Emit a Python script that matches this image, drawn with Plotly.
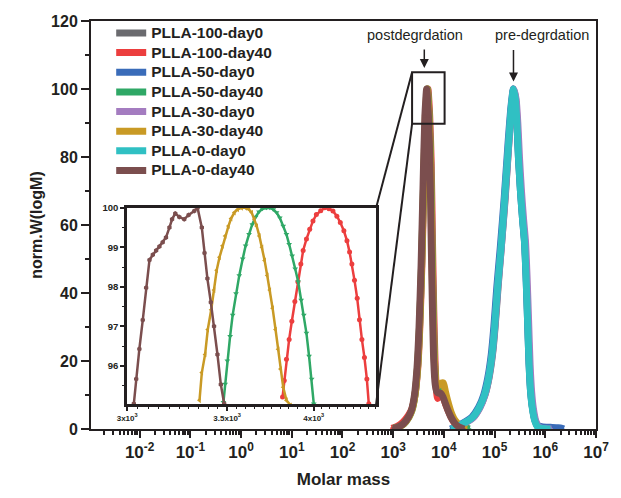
import numpy as np
import plotly.graph_objects as go

# ---------------- data ----------------
series_names = ["PLLA-100-day0", "PLLA-100-day40", "PLLA-50-day0", "PLLA-50-day40",
                "PLLA-30-day0", "PLLA-30-day40", "PLLA-0-day0", "PLLA-0-day40"]
series_colors = ["#6b6b6f", "#ec3e3e", "#3a6cb9", "#2fa866", "#a47cc0", "#c99a25", "#30c0c3", "#7b4e4e"]
series_symbols = ["square", "circle", "triangle-up", "triangle-down", "diamond",
                  "triangle-left", "triangle-right", "hexagon"]

# log10(molar mass) and normalised W(logM) for the main panel
logM_100_d0 = [4.16, 4.31, 4.46, 4.58, 4.71, 4.81, 4.89, 4.96, 5.01, 5.07, 5.13, 5.21, 5.285, 5.335, 5.378,
               5.415, 5.445, 5.475, 5.515, 5.555, 5.595, 5.625, 5.655, 5.685, 5.715, 5.75, 5.795, 5.845, 5.91, 6.0, 6.12]
w_100_d0 = [0, 1.0, 2.2, 3.5, 6.4, 10, 15, 22, 30, 42, 53, 68, 85, 95, 100,
            97, 90, 80, 70, 62, 55, 45, 32, 19, 11, 6, 2.5, 0.8, 0.3, 0.1, 0]

logM_100_d40 = [2.97, 3.08, 3.19, 3.30, 3.37, 3.43, 3.485, 3.525, 3.565, 3.605, 3.645, 3.685, 3.72, 3.75, 3.775,
                3.80, 3.825, 3.85, 3.875, 3.90, 3.94, 3.98, 4.03, 4.08, 4.14, 4.20, 4.27, 4.34, 4.42]
w_100_d40 = [0.2, 0.8, 2.0, 4.0, 6.0, 10, 18, 30, 48, 72, 92, 100, 92, 78, 55,
             35, 20, 12, 9, 9.5, 10, 9.5, 7.5, 5.5, 3.5, 2, 1, 0.4, 0]

logM_50_d0 = [4.13, 4.28, 4.43, 4.55, 4.685, 4.785, 4.865, 4.935, 4.985, 5.045, 5.11, 5.19, 5.27, 5.325, 5.37,
              5.41, 5.44, 5.47, 5.51, 5.55, 5.59, 5.62, 5.65, 5.68, 5.71, 5.75, 5.80, 5.86, 5.95, 6.10, 6.25, 6.33, 6.36]
w_50_d0 = [0, 1.0, 2.2, 3.5, 6.4, 10, 15, 22, 30, 42, 53, 68, 85, 95, 100,
           97, 90, 80, 70, 62, 55, 45, 32, 19, 11, 6, 2.5, 1.0, 0.6, 0.5, 0.4, 0.2, 0]

logM_50_d40 = [3.00, 3.10, 3.21, 3.31, 3.37, 3.43, 3.48, 3.52, 3.56, 3.60, 3.64, 3.675, 3.71, 3.74, 3.765,
               3.79, 3.815, 3.845, 3.875, 3.91, 3.95, 3.99, 4.04, 4.09, 4.15, 4.22, 4.30, 4.40, 4.51]
w_50_d40 = [0.2, 0.6, 1.5, 3.5, 5.5, 10, 18, 30, 48, 72, 92, 100, 92, 78, 55,
            35, 20, 13, 11, 11, 11.5, 10.5, 8, 5.5, 3.5, 2, 1, 0.4, 0]

logM_30_d0 = [4.17, 4.32, 4.47, 4.59, 4.715, 4.81, 4.885, 4.955, 5.005, 5.065, 5.13, 5.205, 5.285, 5.338, 5.38,
              5.425, 5.458, 5.49, 5.53, 5.57, 5.61, 5.64, 5.67, 5.70, 5.73, 5.765, 5.81, 5.86, 5.92, 6.02, 6.12]
w_30_d0 = [0, 1.0, 2.2, 3.5, 6.4, 10, 15, 22, 30, 42, 53, 68, 85, 95, 100,
           97, 90, 80, 70, 62, 55, 45, 32, 19, 11, 6, 2.5, 0.8, 0.3, 0.1, 0]

logM_30_d40 = [3.01, 3.11, 3.21, 3.31, 3.37, 3.43, 3.48, 3.52, 3.56, 3.60, 3.635, 3.67, 3.705, 3.735, 3.76,
               3.785, 3.81, 3.84, 3.87, 3.91, 3.95, 3.99, 4.03, 4.08, 4.14, 4.20, 4.28, 4.36, 4.45]
w_30_d40 = [0.2, 0.6, 1.5, 3.5, 5.5, 10, 18, 30, 48, 72, 92, 100, 92, 78, 55,
            35, 21, 14, 12.5, 13, 13.5, 13.5, 11, 8, 5, 3, 1.5, 0.5, 0]

logM_0_d0 = [4.15, 4.30, 4.45, 4.57, 4.70, 4.80, 4.88, 4.95, 5.00, 5.06, 5.125, 5.20, 5.28, 5.33, 5.373,
             5.41, 5.44, 5.47, 5.51, 5.55, 5.59, 5.62, 5.65, 5.68, 5.71, 5.745, 5.79, 5.84, 5.90, 6.00, 6.10]
w_0_d0 = [0, 1.0, 2.2, 3.5, 6.4, 10, 15, 22, 30, 42, 53, 68, 85, 95, 100,
          97, 90, 80, 70, 62, 55, 45, 32, 19, 11, 6, 2.5, 0.8, 0.3, 0.1, 0]

logM_0_d40 = [3.00, 3.10, 3.20, 3.30, 3.36, 3.42, 3.47, 3.51, 3.55, 3.59, 3.625, 3.66, 3.695, 3.725, 3.75,
              3.775, 3.80, 3.83, 3.86, 3.90, 3.94, 3.98, 4.03, 4.08, 4.14, 4.20, 4.26, 4.33, 4.40]
w_0_d40 = [0.2, 0.6, 1.5, 3.5, 5.5, 10, 18, 30, 48, 72, 92, 100, 92, 78, 55,
           35, 20, 13, 11, 10.5, 10.5, 9.5, 7.5, 5.5, 3.5, 2, 1, 0.4, 0]

# inset (peak region of the degraded samples): molar mass and W
inset_M_100_d40 = [3812, 3822, 3835, 3851, 3867, 3885, 3903, 3921, 3935, 3955, 3975, 3995, 4016, 4043, 4068,
                   4095, 4120, 4145, 4167, 4190, 4210, 4227, 4242, 4259, 4277, 4292, 4308, 4325, 4341, 4354]
inset_w_100_d40 = [95.21, 95.63, 96.17, 96.67, 97.13, 97.63, 98.13, 98.58, 98.92, 99.21, 99.46, 99.67, 99.83, 99.93, 100,
                   99.98, 99.92, 99.79, 99.63, 99.42, 99.17, 98.88, 98.58, 98.17, 97.71, 97.17, 96.67, 96.21, 95.67, 95.04]
inset_M_50_d40 = [3480, 3489, 3501, 3516, 3530, 3548, 3566, 3585, 3601, 3620, 3638, 3657, 3676, 3696, 3719, 3738,
                  3758, 3777, 3796, 3816, 3835, 3851, 3869, 3887, 3905, 3923, 3939, 3955, 3971, 3987, 4000]
inset_w_50_d40 = [95.08, 95.54, 96.13, 96.75, 97.29, 97.83, 98.29, 98.71, 99.04, 99.33, 99.58, 99.77, 99.9, 99.98, 100, 100,
                  99.96, 99.88, 99.75, 99.54, 99.33, 99.08, 98.79, 98.46, 98.13, 97.67, 97.29, 96.83, 96.25, 95.67, 95.04]
inset_M_30_d40 = [3354, 3366, 3383, 3397, 3415, 3430, 3444, 3459, 3475, 3489, 3507, 3521, 3539, 3557, 3579, 3601,
                  3620, 3635, 3650, 3663, 3678, 3693, 3708, 3723, 3738, 3754, 3771, 3786, 3800, 3816, 3835, 3859]
inset_w_30_d40 = [95.13, 95.83, 96.29, 96.92, 97.42, 97.92, 98.42, 98.75, 99.04, 99.29, 99.54, 99.73, 99.88, 99.96, 100, 100,
                  99.96, 99.88, 99.71, 99.54, 99.29, 99.0, 98.67, 98.29, 97.92, 97.46, 96.92, 96.42, 95.92, 95.46, 95.13, 95.0]
inset_M_0_d40 = [3031, 3042, 3057, 3073, 3089, 3105, 3121, 3137, 3153, 3169, 3185, 3202, 3215, 3231, 3251, 3276,
                 3298, 3327, 3344, 3366, 3380, 3395, 3413, 3430, 3448, 3466, 3484]
inset_w_0_d40 = [95.04, 95.67, 96.43, 97.16, 97.98, 98.68, 98.81, 98.92, 99.02, 99.13, 99.25, 99.5, 99.71, 99.86, 99.77, 99.71,
                 99.82, 99.92, 100, 99.5, 98.86, 98.21, 97.61, 97.0, 96.29, 95.53, 95.04]

x_tick_vals = [1e-2, 1e-1, 1e0, 1e1, 1e2, 1e3, 1e4, 1e5, 1e6, 1e7]
x_tick_text = ["10<sup>-2</sup>", "10<sup>-1</sup>", "10<sup>0</sup>", "10<sup>1</sup>", "10<sup>2</sup>",
               "10<sup>3</sup>", "10<sup>4</sup>", "10<sup>5</sup>", "10<sup>6</sup>", "10<sup>7</sup>"]
inset_x_tick_vals = [3000, 3500, 4000]
inset_x_tick_text = ["3x10<sup>3</sup>", "3.5x10<sup>3</sup>", "4x10<sup>3</sup>"]

# ---------------- figure ----------------
FONT = "Arial, Liberation Sans, sans-serif"
main_logM = [logM_100_d0, logM_100_d40, logM_50_d0, logM_50_d40, logM_30_d0, logM_30_d40, logM_0_d0, logM_0_d40]
main_w = [w_100_d0, w_100_d40, w_50_d0, w_50_d40, w_30_d0, w_30_d40, w_0_d0, w_0_d40]

fig = go.Figure()
for name, col, sym, lm, w in zip(series_names, series_colors, series_symbols, main_logM, main_w):
    fig.add_trace(go.Scatter(
        x=10 ** np.array(lm), y=w,
        name="<span style='font-size:15.5px'>" + name + "</span>",
        mode="lines+markers",
        line=dict(color=col, width=7, shape="spline", smoothing=0.6),
        marker=dict(color=col, size=3, symbol=sym),
        xaxis="x", yaxis="y"))

inset_sets = [(1, inset_M_100_d40, inset_w_100_d40), (3, inset_M_50_d40, inset_w_50_d40),
              (5, inset_M_30_d40, inset_w_30_d40), (7, inset_M_0_d40, inset_w_0_d40)]
for idx, mx, wy in inset_sets:
    fig.add_trace(go.Scatter(
        x=mx, y=wy, mode="lines+markers", showlegend=False,
        line=dict(color=series_colors[idx], width=2.5),
        marker=dict(color=series_colors[idx], size=5, symbol=series_symbols[idx]),
        xaxis="x2", yaxis="y2"))

axis_common = dict(showline=True, linecolor="#231f20", mirror=True, showgrid=False, zeroline=False)

fig.update_layout(
    width=621, height=498,
    margin=dict(l=91, r=24, t=21, b=66),
    paper_bgcolor="white", plot_bgcolor="white",
    font=dict(family=FONT, color="#231f20"),
    showlegend=True,
    legend=dict(x=0.04, y=1.007, xanchor="left", yanchor="top", bgcolor="rgba(0,0,0,0)",
                font=dict(family=FONT, size=12.8, weight="bold", color="#231f20"),
                itemwidth=30, tracegroupgap=0),
    xaxis=dict(**axis_common, linewidth=2, type="log", range=[-2.96, 7.0],
               tickmode="array", tickvals=x_tick_vals, ticktext=x_tick_text,
               ticks="outside", ticklen=7, tickwidth=2, tickcolor="#231f20",
               minor=dict(ticks="outside", ticklen=4, tickwidth=1.5, tickcolor="#231f20", dtick="D1", showgrid=False),
               tickfont=dict(family=FONT, size=17, weight="bold", color="#231f20"),
               title=dict(text="Molar mass", font=dict(family=FONT, size=17, weight="bold"), standoff=12)),
    yaxis=dict(**axis_common, linewidth=2, range=[0, 120], dtick=20, tick0=0,
               ticks="outside", ticklen=8, tickwidth=2, tickcolor="#231f20",
               minor=dict(ticks="outside", ticklen=4, tickwidth=1.5, tickcolor="#231f20", dtick=10, showgrid=False),
               tickfont=dict(family=FONT, size=16, weight="bold", color="#231f20"),
               title=dict(text="norm.W(logM)", font=dict(family=FONT, size=16, weight="bold"), standoff=4)),
    xaxis2=dict(**axis_common, linewidth=3, type="log", range=[np.log10(3000), 3.6438],
                domain=[0.0716, 0.5646], anchor="y2",
                tickmode="array", tickvals=inset_x_tick_vals, ticktext=inset_x_tick_text,
                ticks="outside", ticklen=4, tickwidth=1.5, tickcolor="#231f20",
                minor=dict(ticks="outside", ticklen=2, tickwidth=1, tickcolor="#231f20", dtick="L50", showgrid=False),
                tickfont=dict(family=FONT, size=8, weight="bold", color="#231f20")),
    yaxis2=dict(**axis_common, linewidth=3, range=[95.03, 100.0], domain=[0.0608, 0.5420], anchor="x2",
                tickmode="array", tickvals=[96, 97, 98, 99, 100],
                ticks="outside", ticklen=4, tickwidth=1.5, tickcolor="#231f20",
                minor=dict(ticks="outside", ticklen=2, tickwidth=1, tickcolor="#231f20", dtick=0.5, showgrid=False),
                tickfont=dict(family=FONT, size=9.5, weight="bold", color="#231f20")),
)

# zoom box and connector lines (paper coordinates)
fig.add_shape(type="rect", xref="paper", yref="paper", x0=0.6358, x1=0.7002, y0=0.7481, y1=0.8745,
              line=dict(color="#231f20", width=2))
fig.add_shape(type="line", xref="paper", yref="paper", x0=0.6358, y0=0.8745, x1=0.5646, y1=0.5420,
              line=dict(color="#231f20", width=2))
fig.add_shape(type="line", xref="paper", yref="paper", x0=0.6358, y0=0.7481, x1=0.5646, y1=0.0608,
              line=dict(color="#231f20", width=2))

# labels and arrows
fig.add_annotation(text="postdegrdation", xref="paper", yref="paper", x=0.6417, y=0.965,
                   xanchor="center", yanchor="middle",
                   showarrow=False, font=dict(family=FONT, size=14.5, color="#231f20"))
fig.add_annotation(text="pre-degrdation", xref="paper", yref="paper", x=0.8933, y=0.965,
                   xanchor="center", yanchor="middle",
                   showarrow=False, font=dict(family=FONT, size=14.5, color="#231f20"))
fig.add_annotation(text="", xref="paper", yref="paper", x=0.660, y=0.885, ax=0, ay=-20,
                   showarrow=True, arrowhead=2, arrowsize=1.2, arrowwidth=1.5, arrowcolor="#231f20")
fig.add_annotation(text="", xref="paper", yref="paper", x=0.8366, y=0.8517, ax=0, ay=-33,
                   showarrow=True, arrowhead=2, arrowsize=1.2, arrowwidth=1.5, arrowcolor="#231f20")

fig.write_html("out.html", config={"displayModeBar": False},
               post_script="document.body.style.margin='0px';")
